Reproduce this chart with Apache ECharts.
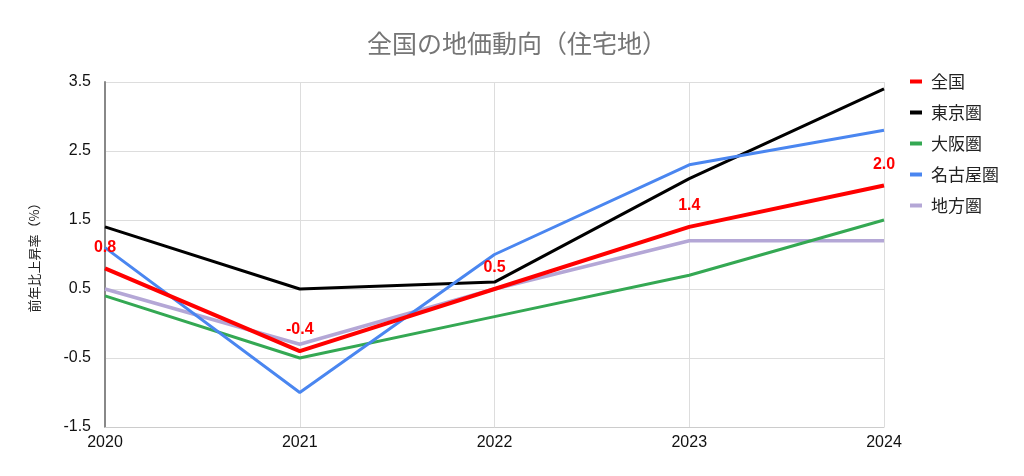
<!DOCTYPE html>
<html><head><meta charset="utf-8">
<script src="https://cdn.jsdelivr.net/npm/echarts@6/dist/echarts.min.js"></script>
<style>html,body{margin:0;padding:0;background:#fff}#c{width:1024px;height:476px}</style>
</head><body><div id="c"></div>
<script>
const years = ['2020','2021','2022','2023','2024'];
const zenkoku = [0.8, -0.4, 0.5, 1.4, 2.0];
const tokyo = [1.4, 0.5, 0.6, 2.1, 3.4];
const osaka = [0.4, -0.5, 0.1, 0.7, 1.5];
const nagoya = [1.1, -1.0, 1.0, 2.3, 2.8];
const chihou = [0.5, -0.3, 0.5, 1.2, 1.2];
const seriesNames = ['全国','東京圏','大阪圏','名古屋圏','地方圏'];
const colors = ['#ff0000','#000000','#34a853','#4a86f0','#b4a7d6'];
const font = '"Liberation Sans", "Noto Sans CJK JP", sans-serif';
const chart = echarts.init(document.getElementById('c'));
function line(name, data, color, width, z, label) {
  return {
    name, type: 'line', data, symbol: 'circle', symbolSize: 0.1, showSymbol: true, z,
    lineStyle: {color, width}, itemStyle: {color},
    label: label ? {show: true, position: 'top', color: '#ff0000', fontWeight: 'bold', fontSize: 16, fontFamily: font, distance: 13,
      formatter: p => p.value.toFixed(1)} : {show: false}
  };
}
chart.setOption({
  animation: false,
  title: {text: '全国の地価動向（住宅地）', left: 512, top: 26, textAlign: 'center',
    textStyle: {color: '#757575', fontSize: 25, fontWeight: 'normal', fontFamily: '"Noto Sans CJK JP", sans-serif'}},
  grid: {left: 105, right: 140, top: 82, bottom: 49},
  legend: {orient: 'vertical', left: 905, top: 68, itemGap: 14, itemWidth: 12, itemHeight: 4,
    icon: 'rect', data: seriesNames,
    textStyle: {color: '#222', fontSize: 17, fontFamily: '"Noto Sans CJK JP", sans-serif', padding: [0,0,0,4]}},
  xAxis: {type: 'category', data: years, boundaryGap: false,
    axisLine: {onZero: false, lineStyle: {color: '#cccccc'}}, axisTick: {show: false},
    splitLine: {show: true, lineStyle: {color: '#dddddd'}},
    axisLabel: {color: '#111', fontSize: 16, fontFamily: font, margin: 8}},
  yAxis: {type: 'value', min: -1.5, max: 3.5, interval: 1,
    name: '前年比上昇率（%）', nameLocation: 'middle', nameGap: 64, nameRotate: 90,
    nameTextStyle: {color: '#222', fontSize: 13, fontFamily: '"Noto Sans CJK JP", sans-serif'},
    axisLine: {show: true, lineStyle: {color: '#888', width: 2}}, axisTick: {show: false},
    splitLine: {lineStyle: {color: '#dddddd'}},
    axisLabel: {color: '#111', fontSize: 16, fontFamily: font, margin: 14, formatter: v => v.toFixed(1)}},
  series: [
    line('全国', zenkoku, colors[0], 4, 10, true),
    line('東京圏', tokyo, colors[1], 3, 5, false),
    line('大阪圏', osaka, colors[2], 3, 4, false),
    line('名古屋圏', nagoya, colors[3], 3, 6, false),
    line('地方圏', chihou, colors[4], 3.5, 3, false)
  ]
});
</script></body></html>
